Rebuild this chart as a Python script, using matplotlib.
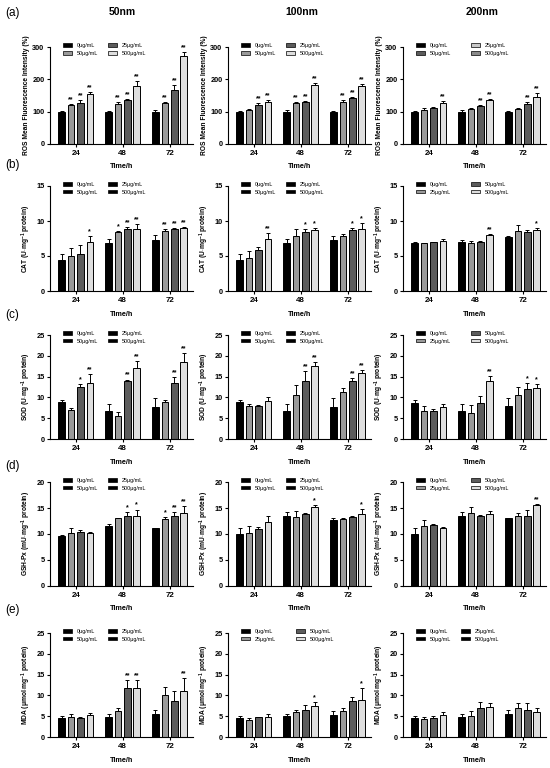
import numpy as np
import matplotlib.pyplot as plt
from matplotlib.patches import Patch

plt.rcParams['font.family'] = ['Liberation Sans', 'DejaVu Sans']
plt.rcParams['mathtext.fontset'] = 'custom'
plt.rcParams['mathtext.rm'] = 'Liberation Sans:bold'
plt.rcParams['mathtext.it'] = 'Liberation Sans:bold'
plt.rcParams['mathtext.bf'] = 'Liberation Sans:bold'
plt.rcParams['mathtext.default'] = 'rm'

times = ['24', '48', '72']
sizes = ['50nm', '100nm', '200nm']
panel_tags = ['(a)', '(b)', '(c)', '(d)', '(e)']
bar_colors = ['#000000', '#9a9a9a', '#5c5c5c', '#dedede']

# values: [size][time][dose]  doses in bar order 0 / 25 / 50 / 500 ug/mL
ros_mean = [[[100, 120, 128, 156], [100, 124, 136, 180], [100, 128, 166, 272]],
            [[100, 106, 121, 130], [100, 127, 129, 184], [100, 131, 141, 179]],
            [[100, 105, 110, 127], [100, 107, 118, 136], [100, 109, 124, 145]]]
ros_err = [[[3, 3, 8, 6], [2, 5, 4, 14], [4, 3, 15, 13]],
           [[3, 3, 6, 5], [5, 3, 3, 6], [2, 4, 5, 6]],
           [[2, 7, 4, 7], [5, 3, 3, 4], [2, 3, 6, 12]]]
ros_sig = [[['', '**', '**', '**'], ['', '**', '**', '**'], ['', '**', '**', '**']],
           [['', '', '**', '**'], ['', '**', '**', '**'], ['', '**', '**', '**']],
           [['', '', '', '**'], ['', '', '**', '**'], ['', '', '**', '**']]]

cat_mean = [[[4.5, 5.0, 5.35, 7.0], [6.9, 8.5, 8.8, 8.9], [7.35, 8.6, 8.8, 9.0]],
            [[4.4, 4.7, 5.85, 7.5], [6.85, 7.8, 8.45, 8.7], [7.3, 7.8, 8.7, 8.9]],
            [[6.9, 6.85, 7.0, 7.1], [6.95, 6.85, 7.0, 8.0], [7.65, 8.6, 8.45, 8.75]]]
cat_err = [[[0.8, 1.1, 1.2, 0.9], [0.6, 0.1, 0.4, 0.7], [0.6, 0.2, 0.15, 0.1]],
           [[0.85, 1.0, 0.4, 0.8], [0.6, 1.1, 0.4, 0.3], [0.6, 0.3, 0.3, 0.8]],
           [[0.05, 0.05, 0.05, 0.3], [0.35, 0.3, 0.15, 0.15], [0.25, 0.8, 0.25, 0.25]]]
cat_sig = [[['', '', '', '*'], ['', '*', '**', '**'], ['', '**', '**', '**']],
           [['', '', '', '**'], ['', '', '*', '*'], ['', '', '*', '*']],
           [['', '', '', ''], ['', '', '', '**'], ['', '', '', '*']]]

sod_mean = [[[8.8, 7.0, 12.5, 13.4], [6.8, 5.5, 13.9, 17.0], [7.8, 9.0, 13.4, 18.4]],
            [[8.8, 7.9, 8.0, 9.2], [6.8, 10.5, 13.9, 17.5], [7.8, 11.2, 13.9, 15.9]],
            [[8.7, 6.75, 6.75, 7.8], [6.75, 6.2, 8.7, 13.9], [7.9, 10.5, 11.9, 12.3]]]
sod_err = [[[0.6, 0.5, 0.7, 2.3], [1.6, 0.9, 0.4, 1.7], [2.0, 0.3, 1.6, 2.3]],
           [[0.5, 0.5, 0.15, 0.8], [1.6, 2.5, 2.4, 1.1], [2.0, 1.0, 0.8, 0.6]],
           [[0.6, 1.1, 0.4, 0.5], [1.6, 2.0, 1.6, 1.3], [2.0, 2.1, 1.5, 0.9]]]
sod_sig = [[['', '', '*', '**'], ['', '', '**', '**'], ['', '', '**', '**']],
           [['', '', '', ''], ['', '', '**', '**'], ['', '', '**', '**']],
           [['', '', '', ''], ['', '', '', '**'], ['', '', '*', '*']]]

gsh_mean = [[[9.65, 10.1, 10.35, 10.1], [11.55, 13.0, 13.4, 13.5], [11.1, 12.95, 13.55, 14.05]],
            [[10.0, 10.2, 11.0, 12.3], [13.4, 13.2, 13.85, 15.1], [12.6, 12.95, 13.3, 13.9]],
            [[10.0, 11.5, 11.7, 11.25], [13.4, 14.1, 13.45, 13.8], [13.0, 13.5, 13.4, 15.65]]]
gsh_err = [[[0.1, 1.0, 0.5, 0.2], [0.3, 0.1, 0.8, 1.2], [0.1, 0.3, 0.7, 1.3]],
           [[1.1, 1.3, 0.3, 1.2], [0.8, 1.3, 0.1, 0.5], [0.5, 0.2, 0.2, 0.9]],
           [[1.1, 1.2, 0.2, 0.1], [0.8, 1.0, 0.2, 0.6], [0.1, 0.5, 1.2, 0.1]]]
gsh_sig = [[['', '', '', ''], ['', '', '*', '*'], ['', '*', '**', '**']],
           [['', '', '', ''], ['', '', '', '*'], ['', '', '', '*']],
           [['', '', '', ''], ['', '', '', ''], ['', '', '', '**']]]

mda_mean = [[[4.55, 4.8, 4.6, 5.4], [4.9, 6.25, 11.8, 11.8], [5.45, 10.0, 8.75, 11.0]],
            [[4.5, 4.2, 4.7, 4.7], [4.95, 6.0, 6.6, 7.35], [5.4, 6.3, 8.55, 8.8]],
            [[4.55, 4.3, 4.6, 5.4], [4.9, 5.1, 6.9, 7.1], [5.45, 6.9, 6.4, 6.0]]]
mda_err = [[[0.5, 0.8, 0.2, 0.3], [0.7, 0.7, 2.0, 1.8], [1.0, 2.1, 2.3, 3.1]],
           [[0.5, 0.3, 0.2, 0.8], [0.6, 0.6, 1.2, 1.0], [0.9, 0.7, 1.1, 3.0]],
           [[0.5, 0.5, 0.4, 0.5], [0.7, 1.1, 1.6, 1.0], [1.0, 1.2, 1.8, 0.9]]]
mda_sig = [[['', '', '', ''], ['', '', '**', '**'], ['', '', '', '**']],
           [['', '', '', ''], ['', '', '', '*'], ['', '', '', '*']],
           [['', '', '', ''], ['', '', '', ''], ['', '', '', '']]]

ylabels = ['ROS Mean Fluorescence Intensity (%)',
           r'CAT (U$\cdot$mg$^{-1}$ protein)',
           r'SOD (U$\cdot$mg$^{-1}$ protein)',
           r'GSH-Px (mU$\cdot$mg$^{-1}$ protein)',
           r'MDA (μmol$\cdot$mg$^{-1}$ protein)']
ymaxes = [300, 15, 25, 20, 25]
ysteps = [100, 5, 5, 5, 5]

# legend entries as shown in each panel (column-major, 2 columns)
leg_black = [('0μg/mL', '#000000'), ('50μg/mL', '#000000'),
             ('25μg/mL', '#000000'), ('500μg/mL', '#000000')]
leg_a = [('0μg/mL', '#000000'), ('50μg/mL', '#9a9a9a'),
         ('25μg/mL', '#5c5c5c'), ('500μg/mL', '#dedede')]
leg_a200 = [('0μg/mL', '#000000'), ('50μg/mL', '#5c5c5c'),
            ('25μg/mL', '#c8c8c8'), ('500μg/mL', '#8a8a8a')]
leg_col = [('0μg/mL', '#000000'), ('25μg/mL', '#9a9a9a'),
           ('50μg/mL', '#5c5c5c'), ('500μg/mL', '#dedede')]
legends = [[leg_a, leg_a, leg_a200],
           [leg_black, leg_black, leg_col],
           [leg_black, leg_black, leg_col],
           [leg_black, leg_black, leg_col],
           [leg_black, leg_col, leg_black]]

all_mean = [ros_mean, cat_mean, sod_mean, gsh_mean, mda_mean]
all_err = [ros_err, cat_err, sod_err, gsh_err, mda_err]
all_sig = [ros_sig, cat_sig, sod_sig, gsh_sig, mda_sig]

W, H = 550, 768
fig = plt.figure(figsize=(W / 100, H / 100), dpi=100)

col_left = [50, 228, 403]
col_w = 143
row_top = [47, 186, 335, 482, 633]
row_bot = [144, 291, 439, 586, 737]

x = np.arange(3)
offs = (np.arange(4) - 1.5) * 0.2
bw = 0.14

for r in range(5):
    for c in range(3):
        ax = fig.add_axes([col_left[c] / W, 1 - row_bot[r] / H, col_w / W,
                           (row_bot[r] - row_top[r]) / H])
        m = np.array(all_mean[r][c])
        e = np.array(all_err[r][c])
        for d in range(4):
            ax.bar(x + offs[d], m[:, d], bw, color=bar_colors[d],
                   edgecolor='black', linewidth=0.7, zorder=2)
            ax.errorbar(x + offs[d], m[:, d], yerr=[np.zeros(3), e[:, d]],
                        fmt='none', ecolor='black', elinewidth=0.7,
                        capsize=1.6, capthick=0.7, zorder=3)
            for t in range(3):
                s = all_sig[r][c][t][d]
                if s:
                    ax.text(x[t] + offs[d], m[t, d] + e[t, d] + ymaxes[r] * 0.008, s,
                            ha='center', va='bottom', fontsize=5,
                            fontweight='bold')
        ax.set_xlim(-0.55, 2.5)
        ax.set_ylim(0, ymaxes[r])
        ax.set_yticks(np.arange(0, ymaxes[r] + 1, ysteps[r]))
        ax.set_xticks(x)
        ax.set_xticklabels(times, fontsize=5.8, fontweight='bold')
        for lb in ax.get_yticklabels():
            lb.set_fontsize(5.3)
            lb.set_fontweight('bold')
        ax.tick_params(direction='out', length=2.5, width=0.8, pad=1.5)
        for sp in ['top', 'right']:
            ax.spines[sp].set_visible(False)
        for sp in ['left', 'bottom']:
            ax.spines[sp].set_linewidth(0.8)
        ax.set_xlabel('Time/h', fontsize=5.2, fontweight='bold', labelpad=5)
        ax.set_ylabel(ylabels[r], fontsize=4.8, fontweight='bold', labelpad=2)

        entries = legends[r][c]
        wide = entries is not leg_black and entries is not leg_a
        handles = [Patch(facecolor=col, edgecolor='black', linewidth=0.5)
                   for _, col in entries]
        ax.legend(handles, [lab for lab, _ in entries], ncol=2, frameon=False,
                  loc='upper left', bbox_to_anchor=(0.09, 1.04),
                  fontsize=3.9, handlelength=1.6, handleheight=0.6,
                  handletextpad=0.9, columnspacing=3.8 if wide else 1.9,
                  labelspacing=0.5, borderpad=0, borderaxespad=0)

for c in range(3):
    fig.text([122, 302, 482][c] / W, 1 - 12 / H, sizes[c], ha='center',
             va='center', fontsize=7.5, fontweight='bold')

tag_y = [13, 165, 315, 466, 610]
for r in range(5):
    fig.text(5 / W, 1 - tag_y[r] / H, panel_tags[r], ha='left', va='center',
             fontsize=8.5)

fig.savefig('out.png', dpi=100)
